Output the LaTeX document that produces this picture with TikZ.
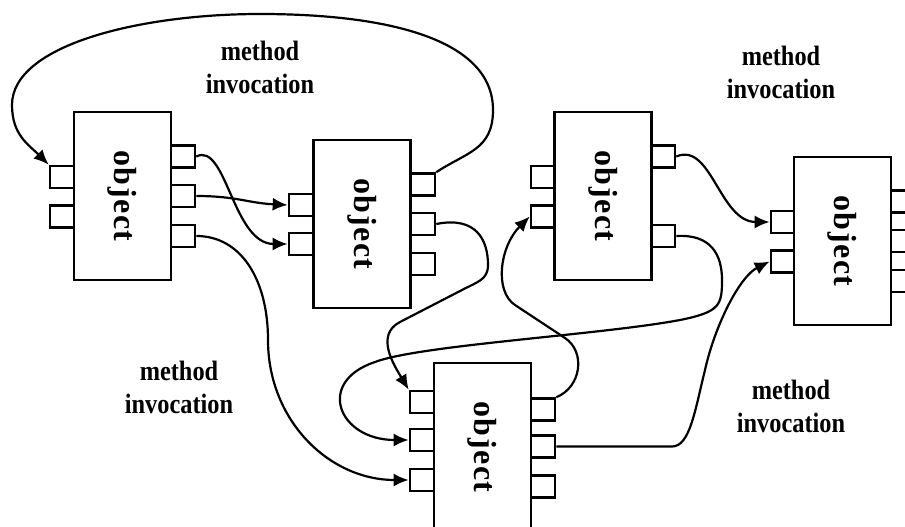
\documentclass[tikz,border=0pt]{standalone}
\usepackage{fontspec}
\setmainfont{Liberation Serif}
\usetikzlibrary{arrows.meta}
\newcommand\objword{o\kern1.5pt b\kern1.5pt j\kern1.5pt e\kern1.5pt c\kern1.5pt t}
\tikzset{
  obj/.style={draw, line width=2.6pt, fill=white, minimum width=97pt, minimum height=168pt, inner sep=0pt},
  objtxt/.style={rotate=-90, font=\bfseries\fontsize{32}{36}\selectfont, inner sep=0pt},
  port/.style={draw, line width=2.6pt, fill=white, minimum width=24pt, minimum height=22pt, inner sep=0pt},
  conn/.style={line width=2.2pt, -{Latex[length=15pt,width=13pt]}},
  lbl/.style={font=\bfseries\fontsize{28}{33}\selectfont, align=center, inner sep=0pt, xscale=0.87}
}
\begin{document}
\begin{tikzpicture}[x=1pt,y=-1pt]
\useasboundingbox (0,0) rectangle (905,527);
% ports A
\node[port] (Al1) at (62,177) {};
\node[port] (Al2) at (62,216.5) {};
\node[port] (Ar1) at (183,156.5) {};
\node[port] (Ar2) at (183,196) {};
\node[port] (Ar3) at (183,236) {};
% ports B
\node[port] (Bl1) at (301,205) {};
\node[port] (Bl2) at (301,244) {};
\node[port] (Br1) at (423,184.5) {};
\node[port] (Br2) at (423,224) {};
\node[port] (Br3) at (423,264) {};
% ports C
\node[port] (Cl1) at (543,177) {};
\node[port] (Cl2) at (543,216.5) {};
\node[port] (Cr1) at (663,156.5) {};
\node[port] (Cr2) at (663,236) {};
% ports D
\node[port] (Dl1) at (783,222) {};
\node[port] (Dl2) at (783,261.5) {};
\node[port] (Dr1) at (902,201.5) {};
\node[port] (Dr2) at (902,241) {};
\node[port] (Dr3) at (902,281) {};
% ports E
\node[port] (El1) at (422,402) {};
\node[port] (El2) at (422,440) {};
\node[port] (El3) at (422,480) {};
\node[port] (Er1) at (543,409.5) {};
\node[port] (Er2) at (543,446.5) {};
\node[port] (Er3) at (543,486.5) {};
% objects
\node[obj] (A) at (122.5,196) {};
\node[obj] (B) at (362,224) {};
\node[obj] (C) at (603,196) {};
\node[obj] (D) at (842.5,241) {};
\node[obj] (E) at (482.5,447) {};
\node[objtxt] (At) at (A) {\objword};
\node[objtxt] (Bt) at (B) {\objword};
\node[objtxt] (Ct) at (C) {\objword};
\node[objtxt] (Dt) at (D) {\objword};
\node[objtxt] (Et) at (E) {\objword};
% labels
\node[lbl] (L1) at (260,67) {method\\invocation};
\node[lbl] (L2) at (781,72) {method\\invocation};
\node[lbl] (L3) at (179,387) {method\\invocation};
\node[lbl] (L4) at (791,406) {method\\invocation};
% connectors
\draw[conn] (Br1.north east) .. controls +(30,-20) and +(0,40) .. (493,110)
  .. controls +(0,-70) and +(130,0) .. (260,14)
  .. controls +(-120,0) and +(0,-60) .. (12,105)
  .. controls +(0,30) and +(-20,-20) .. (Al1.north west);
\draw[conn] (Ar1.east) .. controls +(30,-15) and +(-55,0) .. (Bl2.west);
\draw[conn] (Ar2.east) .. controls +(40,0) and +(-40,-2) .. (Bl1.west);
\draw[conn] (Ar3.east) .. controls +(45,0) and +(0,-60) .. (268,340)
  .. controls +(0,80) and +(-80,0) .. (El3.west);
\draw[conn] (Br2.east) .. controls +(40,-8) and +(0,-25) .. (488,265)
  .. controls +(0,15) and +(15,-8) .. (462,290) -- (400,322)
  .. controls +(-25,13) and +(-15,-25) .. (El1.north west);
\draw[conn] (Er1.north east) .. controls +(25,-10) and +(21,14) .. (565,338) -- (515,305)
  .. controls +(-21,-14) and +(-30,30) .. (Cl2.west);
\draw[conn] (Cr2.east) .. controls +(35,-2) and +(0,-25) .. (722,280)
  .. controls +(0,25) and +(40,-8) .. (680,320)
  .. controls (600,335) and (420,345) .. (375,362)
  .. controls +(-60,20) and +(-70,0) .. (El2.west);
\draw[conn] (Cr1.east) .. controls +(35,-15) and +(-50,0) .. (Dl1.west);
\draw[conn] (Er2.east) -- (672,446.5) .. controls +(18,0) and +(-10,40) .. (705,370)
  .. controls +(10,-45) and +(-30,15) .. (Dl2.west);
\end{tikzpicture}
\end{document}
